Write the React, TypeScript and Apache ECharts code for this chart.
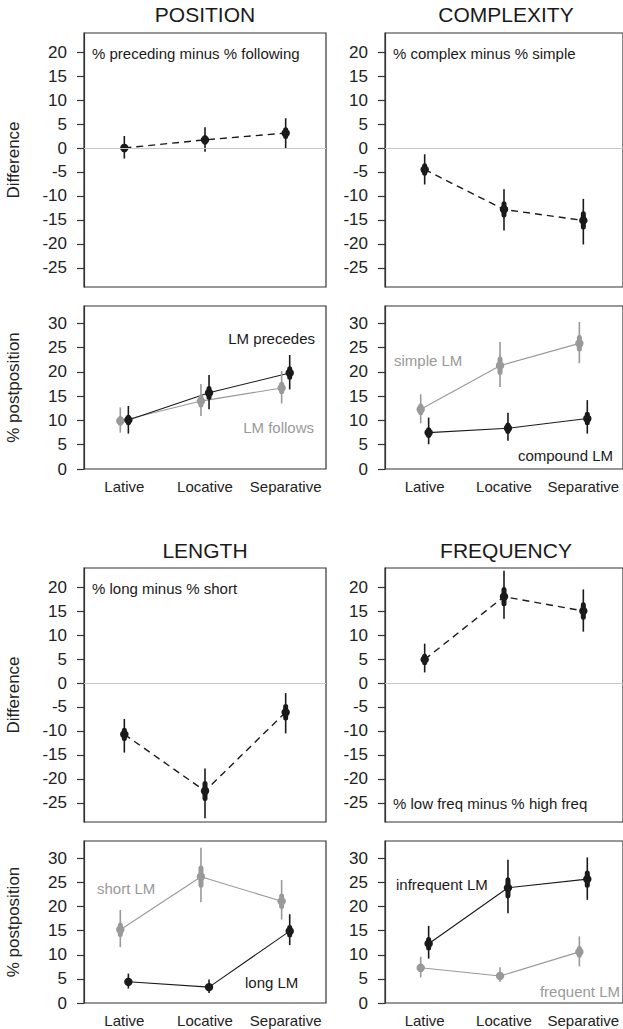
import React, { useEffect, useRef } from "react";
import * as echarts from "echarts";

// ---------- DATA ----------
const categories = ["Lative", "Locative", "Separative"];
const diffTicks = [-25, -20, -15, -10, -5, 0, 5, 10, 15, 20];
const pctTicks = [0, 5, 10, 15, 20, 25, 30];

// each row: [estimate, low95, high95, low50, high50]
const positionDiff = [
  [0.0, -2.2, 2.5, -0.9, 0.9],
  [1.7, -0.8, 4.3, 0.7, 2.7],
  [3.1, 0.0, 6.2, 1.9, 4.3],
];
const complexityDiff = [
  [-4.5, -7.6, -1.3, -5.8, -3.2],
  [-12.8, -17.2, -8.6, -14.5, -11.1],
  [-15.1, -20.1, -10.6, -17.0, -13.2],
];
const lengthDiff = [
  [-10.7, -14.5, -7.5, -12.1, -9.3],
  [-22.5, -28.2, -17.8, -24.6, -20.4],
  [-6.1, -10.5, -2.1, -7.8, -4.4],
];
const frequencyDiff = [
  [4.9, 2.2, 8.2, 3.7, 6.1],
  [18.0, 13.4, 23.4, 16.0, 20.0],
  [15.0, 10.7, 19.5, 13.2, 16.8],
];

const lmFollows = [
  [9.9, 7.5, 12.7, 8.9, 10.9],
  [14.0, 10.9, 17.5, 12.7, 15.3],
  [16.7, 13.5, 20.2, 15.4, 18.0],
];
const lmPrecedes = [
  [10.1, 7.3, 13.0, 9.0, 11.2],
  [15.7, 12.3, 19.4, 14.3, 17.1],
  [19.8, 16.4, 23.5, 18.4, 21.2],
];
const simpleLM = [
  [12.3, 9.4, 15.4, 11.1, 13.5],
  [21.3, 16.9, 26.2, 19.4, 23.2],
  [25.9, 21.8, 30.3, 24.2, 27.6],
];
const compoundLM = [
  [7.5, 5.1, 10.6, 6.4, 8.6],
  [8.4, 5.8, 11.6, 7.2, 9.6],
  [10.4, 7.3, 14.2, 9.0, 11.8],
];
const shortLM = [
  [15.2, 11.6, 19.3, 13.7, 16.7],
  [26.2, 20.9, 32.2, 23.9, 28.5],
  [21.1, 17.3, 25.5, 19.5, 22.7],
];
const longLM = [
  [4.4, 3.0, 6.1, 3.8, 5.0],
  [3.3, 2.1, 4.9, 2.7, 3.9],
  [14.9, 12.0, 18.4, 13.6, 16.2],
];
const infrequentLM = [
  [12.3, 9.2, 16.0, 10.9, 13.7],
  [23.9, 18.6, 29.7, 21.7, 26.1],
  [25.7, 21.4, 30.2, 23.9, 27.5],
];
const frequentLM = [
  [7.3, 5.3, 9.6, 6.4, 8.2],
  [5.6, 4.4, 7.4, 5.0, 6.2],
  [10.6, 7.6, 13.8, 9.4, 11.8],
];

// ---------- STYLE ----------
const BLACK = "#1a1a1a";
const GRAY = "#999999";
const FONT = "'Liberation Sans', Arial, Helvetica, sans-serif";

export default function App() {
  const ref = useRef<HTMLDivElement>(null);

  useEffect(() => {
    if (!ref.current) return;
    const chart = echarts.init(ref.current, undefined, { renderer: "svg" });

    const colLeft = [84, 385];
    const W = 242;
    const rows = [
      { diffTop: 33, diffH: 254, pctTop: 306, pctH: 163 },
      { diffTop: 568, diffH: 254, pctTop: 841, pctH: 162 },
    ];

    const panels = [
      { row: 0, col: 0, diff: positionDiff, gray: lmFollows, black: lmPrecedes },
      { row: 0, col: 1, diff: complexityDiff, gray: simpleLM, black: compoundLM },
      { row: 1, col: 0, diff: lengthDiff, gray: shortLM, black: longLM },
      { row: 1, col: 1, diff: frequencyDiff, gray: frequentLM, black: infrequentLM },
    ];

    const grids: any[] = [];
    const xAxes: any[] = [];
    const yAxes: any[] = [];
    const series: any[] = [];

    const renderGlyph = (color: string) => (params: any, api: any) => {
      const x = api.value(0);
      const c = api.coord([x, api.value(1)]);
      const lo = api.coord([x, api.value(2)]);
      const hi = api.coord([x, api.value(3)]);
      const lo5 = api.coord([x, api.value(4)]);
      const hi5 = api.coord([x, api.value(5)]);
      return {
        type: "group",
        children: [
          {
            type: "line",
            shape: { x1: c[0], y1: lo[1], x2: c[0], y2: hi[1] },
            style: { stroke: color, lineWidth: 1.6 },
          },
          {
            type: "rect",
            shape: { x: c[0] - 2.5, y: hi5[1], width: 5, height: lo5[1] - hi5[1], r: 2.5 },
            style: { fill: color },
          },
          {
            type: "circle",
            shape: { cx: c[0], cy: c[1], r: 4.2 },
            style: { fill: color },
          },
        ],
      };
    };

    const addPanel = (
      top: number,
      height: number,
      col: number,
      isDiff: boolean,
      groups: { data: number[][]; color: string; offset: number }[]
    ) => {
      const gi = grids.length;
      grids.push({
        left: colLeft[col],
        top,
        width: W,
        height,
        show: true,
        borderColor: "#333",
        borderWidth: 1.2,
        backgroundColor: "transparent",
      });
      xAxes.push({
        type: "value",
        gridIndex: gi,
        min: 0.5,
        max: 3.5,
        splitLine: { show: false },
        axisLine: { show: false },
        axisTick: { show: false },
        axisLabel: isDiff
          ? { show: false }
          : {
              show: true,
              customValues: [1, 2, 3],
              formatter: (v: number) => categories[Math.round(v) - 1] ?? "",
              margin: 10,
              fontSize: 15,
              color: "#222",
              fontFamily: FONT,
            },
      });
      const ticks = isDiff ? diffTicks : pctTicks;
      yAxes.push({
        type: "value",
        gridIndex: gi,
        min: isDiff ? -28.96 : 0,
        max: isDiff ? 23.96 : 33.6,
        splitLine: { show: false },
        axisLine: { show: true, lineStyle: { color: "#333", width: 1.2 } },
        axisTick: {
          show: true,
          customValues: ticks,
          length: 7,
          lineStyle: { color: "#333", width: 1.2 },
        },
        axisLabel: {
          show: true,
          customValues: ticks,
          margin: 17,
          fontSize: 17,
          color: "#222",
          fontFamily: FONT,
        },
        name: col === 0 ? (isDiff ? "Difference" : "% postposition") : "",
        nameLocation: "middle",
        nameGap: 62,
        nameTextStyle: { fontSize: 17, color: "#222", fontFamily: FONT },
      });
      groups.forEach((g, k) => {
        const pts = g.data.map((r, i) => [i + 1 + g.offset, r[0]]);
        series.push({
          type: "line",
          xAxisIndex: gi,
          yAxisIndex: gi,
          data: pts,
          symbol: "none",
          z: 2,
          lineStyle: isDiff
            ? { color: g.color, width: 1.4, type: [7, 5] }
            : { color: g.color, width: 1.1 },
          markLine:
            isDiff && k === 0
              ? {
                  silent: true,
                  symbol: "none",
                  label: { show: false },
                  lineStyle: { color: "#c8c8c8", width: 1.2, type: "solid" },
                  data: [{ yAxis: 0 }],
                }
              : undefined,
        });
        series.push({
          type: "custom",
          xAxisIndex: gi,
          yAxisIndex: gi,
          z: 3,
          data: g.data.map((r, i) => [i + 1 + g.offset, r[0], r[1], r[2], r[3], r[4]]),
          renderItem: renderGlyph(g.color),
        });
      });
    };

    panels.forEach((p) => {
      const r = rows[p.row];
      addPanel(r.diffTop, r.diffH, p.col, true, [{ data: p.diff, color: BLACK, offset: 0 }]);
      addPanel(r.pctTop, r.pctH, p.col, false, [
        { data: p.gray, color: GRAY, offset: -0.05 },
        { data: p.black, color: BLACK, offset: 0.05 },
      ]);
    });

    const txt = (
      text: string,
      x: number,
      y: number,
      opts: { size?: number; color?: string; align?: string } = {}
    ) => ({
      type: "text",
      x,
      y,
      style: {
        text,
        fontSize: opts.size ?? 15,
        fill: opts.color ?? BLACK,
        fontFamily: FONT,
        textAlign: opts.align ?? "left",
        textVerticalAlign: "middle",
      },
    });

    const graphic = [
      txt("POSITION", 205, 14, { size: 21, align: "center" }),
      txt("COMPLEXITY", 506, 14, { size: 21, align: "center" }),
      txt("LENGTH", 205, 550, { size: 21, align: "center" }),
      txt("FREQUENCY", 506, 550, { size: 21, align: "center" }),
      txt("% preceding minus % following", 92, 53),
      txt("% complex minus % simple", 393, 53),
      txt("% long minus % short", 92, 588),
      txt("% low freq minus % high freq", 393, 803),
      txt("LM precedes", 315, 338, { align: "right" }),
      txt("LM follows", 314, 427, { align: "right", color: GRAY }),
      txt("simple LM", 394, 360, { color: GRAY }),
      txt("compound LM", 613, 455, { align: "right" }),
      txt("short LM", 97, 888, { color: GRAY }),
      txt("long LM", 245, 982),
      txt("infrequent LM", 396, 884),
      txt("frequent LM", 620, 991, { align: "right", color: GRAY }),
    ];

    chart.setOption({
      animation: false,
      backgroundColor: "#ffffff",
      textStyle: { fontFamily: FONT },
      grid: grids,
      xAxis: xAxes,
      yAxis: yAxes,
      series,
      graphic,
    });

    return () => chart.dispose();
  }, []);

  return (
    <div
      ref={ref}
      style={{ position: "fixed", left: 0, top: 0, width: 623, height: 1029 }}
    />
  );
}
